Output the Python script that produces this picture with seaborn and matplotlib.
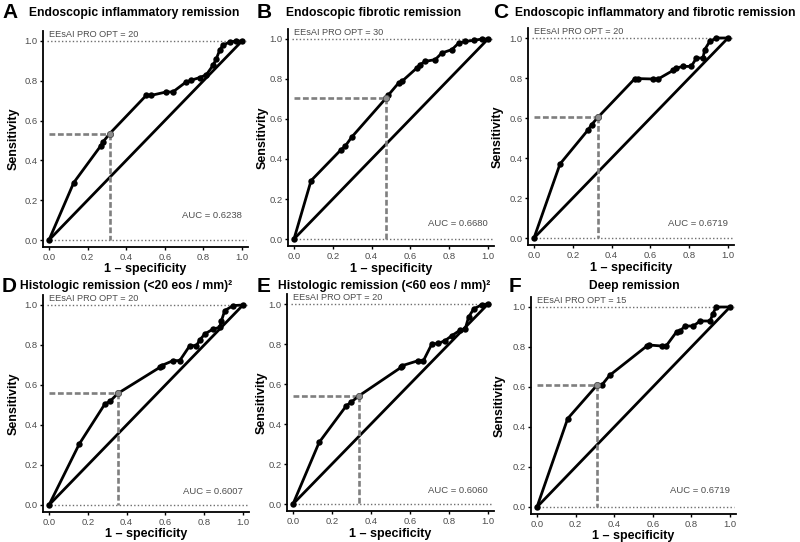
import numpy as np
import pandas as pd
import matplotlib
matplotlib.use("Agg")
import matplotlib.pyplot as plt
import seaborn as sns

sns.set_theme(style="ticks")
plt.rcParams['font.family'] = ['Liberation Sans', 'DejaVu Sans']

# ---------------- data ----------------
panel_letters = ["A", "B", "C", "D", "E", "F"]
panel_titles = [
    "Endoscopic inflammatory remission",
    "Endoscopic fibrotic remission",
    "Endoscopic inflammatory and fibrotic remission",
    "Histologic remission (<20 eos / mm)\u00b2",
    "Histologic remission (<60 eos / mm)\u00b2",
    "Deep remission",
]
opt_labels = ["EEsAI PRO OPT = 20", "EEsAI PRO OPT = 30", "EEsAI PRO OPT = 20",
              "EEsAI PRO OPT = 20", "EEsAI PRO OPT = 20", "EEsAI PRO OPT = 15"]
auc_labels = ["AUC = 0.6238", "AUC = 0.6680", "AUC = 0.6719",
              "AUC = 0.6007", "AUC = 0.6060", "AUC = 0.6719"]

A_fpr = [0, 0.128, 0.268, 0.28, 0.315, 0.504, 0.53, 0.608, 0.642, 0.71, 0.737, 0.78, 0.815, 0.85, 0.867, 0.884, 0.9, 0.936, 0.97, 1.0]
A_tpr = [0, 0.288, 0.473, 0.493, 0.535, 0.727, 0.727, 0.744, 0.744, 0.794, 0.803, 0.816, 0.83, 0.878, 0.911, 0.953, 0.978, 0.995, 1.0, 1.0]

B_fpr = [0, 0.088, 0.243, 0.263, 0.298, 0.475, 0.485, 0.539, 0.556, 0.633, 0.65, 0.676, 0.728, 0.762, 0.814, 0.849, 0.883, 0.926, 0.969, 1.0]
B_tpr = [0, 0.292, 0.447, 0.463, 0.51, 0.705, 0.718, 0.78, 0.788, 0.855, 0.872, 0.888, 0.897, 0.93, 0.947, 0.98, 0.988, 0.993, 1.0, 1.0]

C_fpr = [0, 0.134, 0.28, 0.297, 0.331, 0.52, 0.537, 0.614, 0.64, 0.717, 0.734, 0.768, 0.811, 0.837, 0.871, 0.88, 0.906, 0.94, 1.0]
C_tpr = [0, 0.37, 0.542, 0.567, 0.605, 0.797, 0.797, 0.795, 0.795, 0.838, 0.85, 0.858, 0.858, 0.9, 0.9, 0.942, 0.983, 1.0, 1.0]

D_fpr = [0, 0.156, 0.288, 0.314, 0.355, 0.571, 0.58, 0.64, 0.674, 0.726, 0.76, 0.777, 0.803, 0.846, 0.88, 0.889, 0.906, 0.949, 1.0]
D_tpr = [0, 0.305, 0.505, 0.518, 0.558, 0.688, 0.697, 0.722, 0.722, 0.797, 0.797, 0.825, 0.855, 0.88, 0.888, 0.922, 0.972, 0.997, 1.0]

E_fpr = [0, 0.134, 0.274, 0.297, 0.337, 0.554, 0.561, 0.643, 0.669, 0.712, 0.746, 0.78, 0.815, 0.858, 0.883, 0.9, 0.926, 0.969, 1.0]
E_tpr = [0, 0.308, 0.492, 0.508, 0.54, 0.683, 0.692, 0.717, 0.717, 0.8, 0.803, 0.817, 0.842, 0.87, 0.875, 0.933, 0.975, 0.997, 1.0]

F_fpr = [0, 0.159, 0.31, 0.336, 0.376, 0.569, 0.578, 0.647, 0.669, 0.724, 0.741, 0.767, 0.81, 0.845, 0.897, 0.91, 0.928, 1.0]
F_tpr = [0, 0.442, 0.608, 0.61, 0.658, 0.805, 0.81, 0.805, 0.805, 0.877, 0.88, 0.905, 0.905, 0.93, 0.93, 0.963, 1.0, 1.0]

roc_fpr = [A_fpr, B_fpr, C_fpr, D_fpr, E_fpr, F_fpr]
roc_tpr = [A_tpr, B_tpr, C_tpr, D_tpr, E_tpr, F_tpr]

opt_fpr = [0.315, 0.475, 0.331, 0.355, 0.337, 0.31]
opt_tpr = [0.535, 0.705, 0.605, 0.558, 0.54, 0.608]

tick_values = [0.0, 0.2, 0.4, 0.6, 0.8, 1.0]
tick_labels = ["0.0", "0.2", "0.4", "0.6", "0.8", "1.0"]

# ---------------- layout (pixel positions of data 0 / 1) ----------------
W, H = 800, 542
# x at data 0, x at data 1, y at data 1, y at data 0
panel_px = [
    (49, 242, 41, 240),
    (294, 488, 39, 239),
    (534, 728, 38, 238),
    (49, 243, 305, 505),
    (293, 488, 304, 504),
    (537, 730, 307, 507),
]
letter_px = [(2, 13), (257, 13), (493, 13), (2, 287), (257, 287), (509, 287)]
title_px = [(29, 13, "left"), (286, 13, "left"), (515, 13, "left"),
            (20, 286, "left"), (278, 286, "left"), (634.5, 286, "center")]
ylabel_xc = [14, 263, 498, 14, 262, 500]
auc_y = [0.125, 0.08, 0.07, 0.07, 0.067, 0.083]

XL = (-0.03, 1.03)
YL = (-0.035, 1.05)

fig = plt.figure(figsize=(W / 100, H / 100), dpi=100)
fig.patch.set_facecolor("white")

grey_txt = "#4d4d4d"
dash_grey = "#7f7f7f"

for i in range(6):
    x0, x1, y1, y0 = panel_px[i]
    w = x1 - x0
    h = y0 - y1
    left_px = x0 + XL[0] * w
    right_px = x0 + XL[1] * w
    top_px = y0 - YL[1] * h
    bot_px = y0 - YL[0] * h
    ax = fig.add_axes([left_px / W, 1 - bot_px / H,
                       (right_px - left_px) / W, (bot_px - top_px) / H])
    ax.set_facecolor("white")

    # reference lines y = 0 and y = 1
    ax.hlines([0, 1], -0.01, 1.02, colors="#6e6e6e", linewidth=1.0,
              linestyles=(0, (1, 1.6)), zorder=1)

    # diagonal
    diag = pd.DataFrame({"x": [0.0, 1.0], "y": [0.0, 1.0]})
    sns.lineplot(data=diag, x="x", y="y", ax=ax, color="black",
                 linewidth=2.0, sort=False, estimator=None, zorder=2)

    # optimal cut-off dashed guides
    ax.plot([0, opt_fpr[i]], [opt_tpr[i], opt_tpr[i]], color=dash_grey,
            linewidth=1.9, linestyle=(0, (2.2, 1.0)), zorder=3)
    ax.plot([opt_fpr[i], opt_fpr[i]], [opt_tpr[i], 0], color=dash_grey,
            linewidth=1.9, linestyle=(0, (2.2, 1.0)), zorder=3)

    # ROC curve
    df = pd.DataFrame({"fpr": roc_fpr[i], "tpr": roc_tpr[i]})
    sns.lineplot(data=df, x="fpr", y="tpr", ax=ax, color="black",
                 linewidth=2.0, sort=False, estimator=None, marker="o",
                 markersize=4.6, markeredgewidth=0, zorder=4)
    # optimal point
    sns.scatterplot(x=[opt_fpr[i]], y=[opt_tpr[i]], ax=ax, color="#8c8c8c",
                    s=20, edgecolor="#555555", linewidth=0.6, zorder=5)

    ax.text(0.0, 1.012, opt_labels[i], ha="left", va="bottom",
            fontsize=6.6, color=grey_txt, zorder=6)
    ax.text(1.0, auc_y[i], auc_labels[i], ha="right", va="center",
            fontsize=6.8, color=grey_txt, zorder=6)

    ax.set_xlim(*XL)
    ax.set_ylim(*YL)
    ax.set_xticks(tick_values)
    ax.set_xticklabels(tick_labels)
    ax.set_yticks(tick_values)
    ax.set_yticklabels(tick_labels)
    ax.tick_params(axis="both", labelsize=6.8, labelcolor=grey_txt,
                   length=2.5, width=1.0, color="black", pad=1.5)
    for s in ["top", "right"]:
        ax.spines[s].set_visible(False)
    for s in ["left", "bottom"]:
        ax.spines[s].set_color("black")
        ax.spines[s].set_linewidth(1.3)

    ax.set_xlabel("1 \u2013 specificity", fontsize=9, fontweight="bold",
                  color="black")
    ax.set_ylabel("Sensitivity", fontsize=9, fontweight="bold", color="black")
    ax_w_px = right_px - left_px
    ax_h_px = bot_px - top_px
    # ylabel: anchor at right edge of rotated text (va=bottom)
    ax.yaxis.set_label_coords((ylabel_xc[i] + 6 - left_px) / ax_w_px, 0.5)
    # xlabel: top of text
    ax.xaxis.set_label_coords(0.5, -(y0 + 23.5 - bot_px) / ax_h_px)

    lx, ly = letter_px[i]
    fig.text(lx / W, 1 - ly / H, panel_letters[i], fontsize=15,
             fontweight="bold", ha="left", va="center", color="black")
    tx, ty, tha = title_px[i]
    fig.text(tx / W, 1 - ty / H, panel_titles[i], fontsize=8.75,
             fontweight="bold", ha=tha, va="center", color="black")

fig.savefig("out.png", dpi=100, facecolor="white")
